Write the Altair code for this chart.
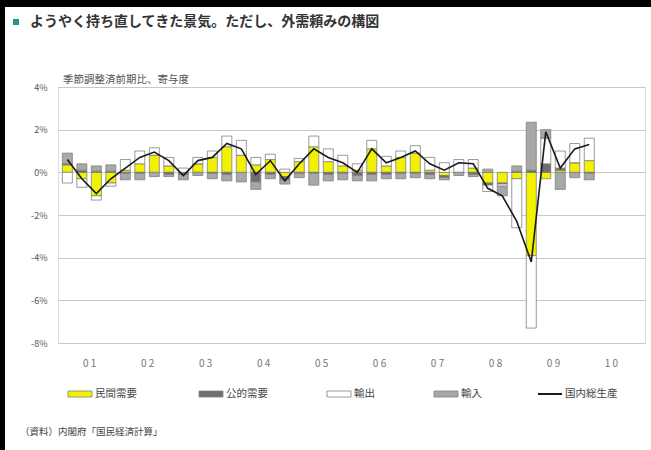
import json
import altair as alt
import pandas as pd

# ---------------- data ----------------
quarters = [f"{y}Q{q}" for y in range(2001, 2011) for q in range(1, 5)][:37]

private = [0.35, -0.3, -1.1, -0.5, 0.1, 0.4, 0.8, 0.3, 0.0, 0.4, 0.7, 1.2, 0.8,
           0.35, 0.6, -0.2, 0.5, 1.2, 0.5, 0.3, 0.1, 1.1, 0.3, 0.7, 0.9, 0.1,
           -0.15, 0.0, 0.2, -0.5, -0.5, -0.3, -3.9, -0.3, 0.1, 0.45, 0.55]
public = [0.05, 0.1, 0.05, 0.05, -0.05, -0.05, 0.0, -0.1, -0.1, 0.0, -0.05, -0.1, 0.0,
          -0.45, -0.1, -0.15, -0.05, -0.05, -0.1, -0.05, -0.15, -0.1, -0.1, -0.05, -0.05, -0.1,
          -0.1, 0.0, -0.1, -0.1, -0.05, 0.05, 0.1, 0.4, 0.1, 0.0, -0.05]
exports = [-0.5, -0.4, -0.2, -0.15, 0.5, 0.6, 0.35, 0.4, 0.2, 0.3, 0.3, 0.5, 0.7,
           0.35, 0.25, 0.15, 0.15, 0.5, 0.6, 0.5, 0.3, 0.4, 0.45, 0.3, 0.35, 0.6,
           0.45, 0.6, 0.4, -0.3, -0.1, -2.3, -3.4, 1.2, 0.8, 0.9, 1.05]
imports = [0.5, 0.3, 0.25, 0.3, -0.3, -0.3, -0.2, -0.1, -0.25, -0.15, -0.25, -0.3, -0.45,
           -0.35, -0.2, -0.2, -0.2, -0.55, -0.3, -0.3, -0.25, -0.3, -0.2, -0.25, -0.2, -0.2,
           -0.1, -0.15, -0.1, 0.15, -0.45, 0.25, 2.25, 0.4, -0.8, -0.25, -0.3]
gdp = [0.6, -0.3, -1.0, -0.3, 0.2, 0.7, 0.95, 0.55, -0.15, 0.55, 0.7, 1.35, 1.1,
       -0.1, 0.55, -0.4, 0.4, 1.1, 0.7, 0.45, 0.0, 1.1, 0.45, 0.7, 1.0, 0.4,
       0.1, 0.45, 0.4, -0.75, -1.1, -2.3, -4.2, 1.9, 0.2, 1.1, 1.3]

series_names = ["民間需要", "公的需要", "輸出", "輸入"]
series_colors = ["#f2f200", "#6e6e6e", "#ffffff", "#a8a8a8"]
line_name = "国内総生産"
year_labels = ["0 1", "0 2", "0 3", "0 4", "0 5", "0 6", "0 7", "0 8", "0 9", "1 0"]
y_ticks = [-8, -6, -4, -2, 0, 2, 4]

title_text = "ようやく持ち直してきた景気。ただし、外需頼みの構図"
subtitle_text = "季節調整済前期比、寄与度"
source_text = "（資料）内閣府「国民経済計算」"

FONT = "Noto Sans CJK JP"

# ---------------- tables ----------------
rows = []
for i, q in enumerate(quarters):
    for k, (name, vals) in enumerate(zip(series_names, [private, public, exports, imports])):
        rows.append({"t": i, "quarter": q, "series": name, "order": k, "value": vals[i]})
bars_df = pd.DataFrame(rows)
line_df = pd.DataFrame({"t": list(range(len(quarters))), "quarter": quarters, "gdp": gdp})
one = pd.DataFrame({"k": [0]})

x_scale = alt.Scale(domain=[-0.3, 39.5], nice=False, zero=False)
y_scale = alt.Scale(domain=[-8, 4], nice=False, zero=False)
year_ticks = [1.5 + 4 * k for k in range(len(year_labels))]
label_expr = json.dumps(year_labels) + "[round((datum.value - 1.5) / 4)]"

x_axis = alt.Axis(values=year_ticks, labelExpr=label_expr, grid=False, ticks=False,
                  domain=False, title=None, labelFont=FONT, labelFontSize=10,
                  labelColor="#777777", labelPadding=15)
y_axis = alt.Axis(values=y_ticks, labelExpr="datum.value + '%'", grid=True,
                  gridColor="#c8c8c8", gridWidth=1, ticks=False, domain=False,
                  title=None, labelFont=FONT, labelFontSize=9, labelColor="#555555",
                  labelPadding=11)

bars = alt.Chart(bars_df).mark_bar(size=10, stroke="#808080", strokeWidth=0.8).encode(
    x=alt.X("t:Q", scale=x_scale, axis=x_axis),
    y=alt.Y("value:Q", stack="zero", scale=y_scale, axis=y_axis),
    color=alt.Color("series:N", scale=alt.Scale(domain=series_names, range=series_colors),
                    legend=None),
    order=alt.Order("order:Q"),
)

line = alt.Chart(line_df).mark_line(color="#1a1a1a", strokeWidth=1.6).encode(
    x=alt.X("t:Q", scale=x_scale),
    y=alt.Y("gdp:Q", scale=y_scale),
)

layers = [bars, line]

# frame bands (top and left)
layers.append(alt.Chart(one).mark_rect(color="#000000").encode(
    x=alt.value(-58), x2=alt.value(593), y=alt.value(-87), y2=alt.value(-80)))
layers.append(alt.Chart(one).mark_rect(color="#000000").encode(
    x=alt.value(-58), x2=alt.value(-53), y=alt.value(-87), y2=alt.value(363)))

# title
layers.append(alt.Chart(one).mark_rect(color="#1f9a8a").encode(
    x=alt.value(-45), x2=alt.value(-39), y=alt.value(-68), y2=alt.value(-62)))
layers.append(alt.Chart(pd.DataFrame({"s": [title_text]})).mark_text(
    align="left", baseline="middle", font=FONT, fontSize=14, fontWeight="bold",
    color="#333333").encode(x=alt.value(-28), y=alt.value(-65), text="s:N"))
layers.append(alt.Chart(pd.DataFrame({"s": [subtitle_text]})).mark_text(
    align="left", baseline="middle", font=FONT, fontSize=10.5, color="#555555").encode(
    x=alt.value(5), y=alt.value(-7), text="s:N"))

# legend
legend_x = [10, 141, 269, 376, 480]
legend_y = 307
for k, name in enumerate(series_names):
    x0 = legend_x[k]
    layers.append(alt.Chart(one).mark_rect(color=series_colors[k], stroke="#808080",
                                           strokeWidth=0.8).encode(
        x=alt.value(x0), x2=alt.value(x0 + 24), y=alt.value(legend_y - 3),
        y2=alt.value(legend_y + 3)))
    layers.append(alt.Chart(pd.DataFrame({"s": [name]})).mark_text(
        align="left", baseline="middle", font=FONT, fontSize=10.5, color="#444444").encode(
        x=alt.value(x0 + 27), y=alt.value(legend_y), text="s:N"))
x0 = legend_x[4]
layers.append(alt.Chart(one).mark_rule(color="#1a1a1a", strokeWidth=2).encode(
    x=alt.value(x0), x2=alt.value(x0 + 24), y=alt.value(legend_y)))
layers.append(alt.Chart(pd.DataFrame({"s": [line_name]})).mark_text(
    align="left", baseline="middle", font=FONT, fontSize=10.5, color="#444444").encode(
    x=alt.value(x0 + 27), y=alt.value(legend_y), text="s:N"))

# source
layers.append(alt.Chart(pd.DataFrame({"s": [source_text]})).mark_text(
    align="left", baseline="middle", font=FONT, fontSize=9.5, color="#444444").encode(
    x=alt.value(-38), y=alt.value(345), text="s:N"))

chart = alt.layer(*layers).properties(
    width=587, height=256,
    padding={"left": 58, "top": 87, "right": 6, "bottom": 107},
    autosize=alt.AutoSizeParams(type="none"),
).configure_view(stroke=None).configure(background="#ffffff")

chart.save("out.html", embed_options={"renderer": "svg", "actions": False})
